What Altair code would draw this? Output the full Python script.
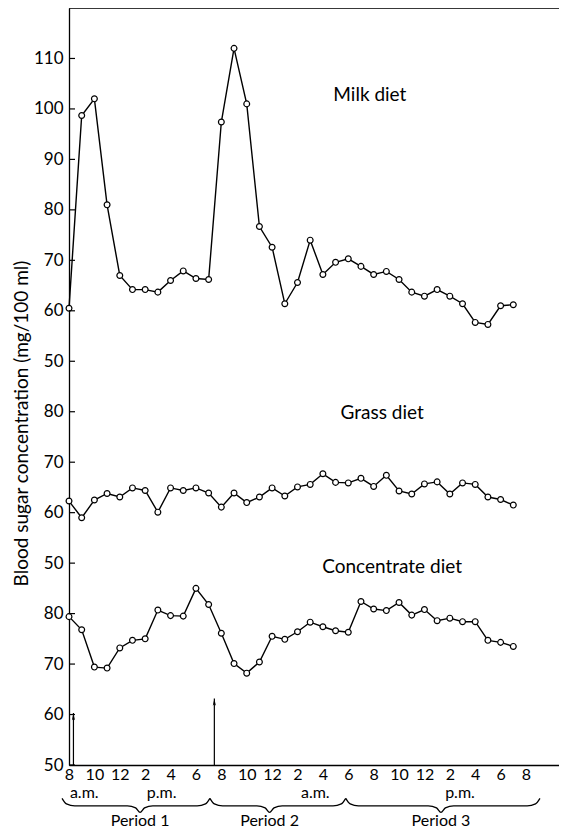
import altair as alt
import pandas as pd

FONT = "Lato"

hours = list(range(36))  # hours after 8 a.m. on the first day

milk = [60.5, 98.7, 102, 81, 67, 64.2, 64.2, 63.7, 66, 67.9, 66.4, 66.2,
        97.4, 112, 101, 76.7, 72.6, 61.4, 65.6, 74, 67.2, 69.6, 70.3, 68.8,
        67.2, 67.8, 66.2, 63.7, 62.9, 64.2, 62.9, 61.4, 57.7, 57.3, 61, 61.2]
grass = [62.3, 59, 62.5, 63.8, 63.1, 64.9, 64.4, 60.1, 64.9, 64.4, 64.9, 63.9,
         61.1, 63.9, 62, 63.1, 64.9, 63.3, 65.1, 65.6, 67.7, 66, 65.9, 66.8,
         65.2, 67.4, 64.3, 63.7, 65.7, 66.1, 63.7, 65.9, 65.6, 63.1, 62.6, 61.5]
conc = [79.4, 76.8, 69.4, 69.2, 73.2, 74.7, 75, 80.7, 79.6, 79.5, 85, 81.8,
        76.1, 70.1, 68.2, 70.4, 75.5, 74.9, 76.4, 78.3, 77.4, 76.6, 76.3, 82.4,
        80.9, 80.6, 82.2, 79.7, 80.8, 78.6, 79.1, 78.4, 78.4, 74.7, 74.3, 73.5]

# vertical shift of each panel on the shared position scale
series_names = ["Milk diet", "Grass diet", "Concentrate diet"]
shifts = [30, -10, -50]
label_hours = [23.7, 24.67, 25.45]
label_values = [102.8, 79.7, 89.2]

tick_positions = list(range(0, 141, 10))
x_tick_hours = list(range(0, 37, 2))

ampm_text = ["a.m.", "p.m.", "a.m.", "p.m."]
ampm_hours = [1.2, 7.3, 19.4, 30.8]

period_names = ["Period 1", "Period 2", "Period 3"]
period_start = [-0.55, 11.1, 21.8]
period_end = [11.1, 21.8, 37.1]
period_tip = [5.6, 15.8, 29.3]

arrow_hours = [0.35, 11.45]
arrow_tops = [10.3, 13.2]

rows = []
for name, vals, sh in zip(series_names, [milk, grass, conc], shifts):
    for h, v in zip(hours, vals):
        rows.append({"hour": h, "value": v, "series": name, "p": v + sh})
df = pd.DataFrame(rows)

lab_df = pd.DataFrame({"hour": label_hours,
                       "p": [v + s for v, s in zip(label_values, shifts)],
                       "text": series_names})

ticks_df = pd.DataFrame({"p": tick_positions})

brace_rows = []
for name, a, c, b in zip(period_names, period_start, period_tip, period_end):
    pts = [(a, -6.6), (a + 0.35, -7.7), (a + 1.0, -8.1), (c - 1.0, -8.1),
           (c - 0.35, -8.5), (c, -9.4), (c + 0.35, -8.5), (c + 1.0, -8.1),
           (b - 1.0, -8.1), (b - 0.35, -7.7), (b, -6.6)]
    for i, (hx, py) in enumerate(pts):
        brace_rows.append({"hour": hx, "p": py, "period": name, "o": i})
brace_df = pd.DataFrame(brace_rows)

period_df = pd.DataFrame({"hour": period_tip, "p": [-12.6] * 3, "text": period_names})
ampm_df = pd.DataFrame({"hour": ampm_hours, "p": [-5.5] * 4, "text": ampm_text})
arrow_df = pd.DataFrame({"hour": arrow_hours, "p0": [0] * 2, "p": arrow_tops,
                         "head": [t - 0.75 for t in arrow_tops]})
top_df = pd.DataFrame({"p": [150]})

xscale = alt.Scale(domain=[0, 38.6], nice=False, zero=False)
yscale = alt.Scale(domain=[0, 150], nice=False, zero=False)

x_axis = alt.Axis(values=x_tick_hours,
                  labelExpr="((8 + datum.value) % 12) == 0 ? '12' : '' + ((8 + datum.value) % 12)",
                  ticks=False, grid=False, title=None, labelPadding=1,
                  labelFlush=False, labelOverlap=False, labelFontSize=16,
                  labelFont=FONT, labelColor="black", domainColor="black",
                  domainWidth=1.3)
y_axis = alt.Axis(values=tick_positions,
                  labelExpr="datum.value < 40 ? '' + (datum.value + 50) : (datum.value < 80 ? '' + (datum.value + 10) : '' + (datum.value - 30))",
                  ticks=False, grid=False, title="Blood sugar concentration (mg/100 ml)",
                  titleFont=FONT, titleFontSize=19, titleFontWeight="normal",
                  titleColor="black", titleX=-48, titleY=415, titleBaseline="middle",
                  titleAlign="center", labelPadding=6, labelOverlap=False,
                  labelFontSize=17, labelFont=FONT, labelColor="black",
                  domainColor="black", domainWidth=1.3)

X = alt.X("hour:Q", scale=xscale, axis=x_axis)
Y = alt.Y("p:Q", scale=yscale, axis=y_axis)

base = alt.Chart(df)
lines = base.mark_line(color="black", strokeWidth=1.4).encode(
    x=X, y=Y, detail="series:N")
points = base.mark_point(shape="circle", filled=True, fill="white", stroke="black",
                         strokeWidth=1.2, size=34, opacity=1).encode(
    x=X, y=Y, detail="series:N")

labels = alt.Chart(lab_df).mark_text(font=FONT, fontSize=19, color="black").encode(
    x=X, y=Y, text="text:N")

ticks = alt.Chart(ticks_df).mark_rule(color="black", strokeWidth=1.2).encode(
    y=Y, x=alt.value(0), x2=alt.value(6))

top = alt.Chart(top_df).mark_rule(color="black", strokeWidth=1.3).encode(
    y=Y, x=alt.value(0), x2=alt.value(490))

braces = alt.Chart(brace_df).mark_line(color="black", strokeWidth=1.3,
                                        interpolate="monotone").encode(
    x=X, y=Y, detail="period:N", order="o:Q")

periods = alt.Chart(period_df).mark_text(font=FONT, fontSize=16, color="black",
                                         baseline="bottom").encode(
    x=X, y=Y, text="text:N")
ampm = alt.Chart(ampm_df).mark_text(font=FONT, fontSize=16, color="black").encode(
    x=X, y=Y, text="text:N")

arrow_lines = alt.Chart(arrow_df).mark_rule(color="black", strokeWidth=1.2).encode(
    x=X, y=alt.Y("p0:Q", scale=yscale, axis=y_axis), y2="p:Q")
arrow_heads = alt.Chart(arrow_df).mark_point(
    shape="M0,-1L0.45,1L0,0.55L-0.45,1Z", filled=True, color="black",
    size=49, opacity=1).encode(x=X, y=alt.Y("head:Q", scale=yscale, axis=y_axis))

chart = alt.layer(lines, points, labels, ticks, top, braces, periods, ampm,
                  arrow_lines, arrow_heads).properties(
    width=490, height=757,
    autosize=alt.AutoSizeParams(type="none"),
    padding={"left": 61, "top": 0, "right": 0, "bottom": 65},
).configure_view(stroke=None).configure_axisX(
    labelOverlap=False, labelFlush=False
).configure(background="white")

chart.save("out.html", embed_options={"renderer": "svg", "actions": False})
